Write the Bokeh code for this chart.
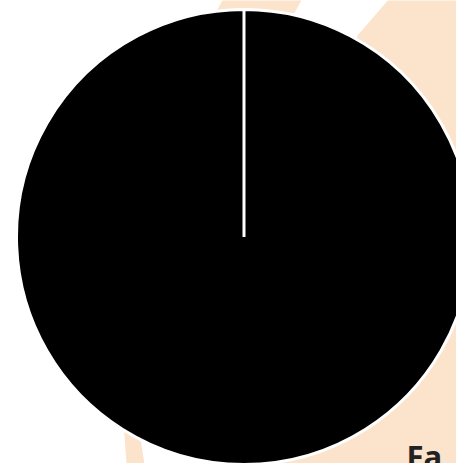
import math
from bokeh.plotting import figure
from bokeh.models import Range1d, ColumnDataSource
from bokeh.core.properties import value
from bokeh.embed import file_html
from bokeh.resources import INLINE

# data
categories = ["Share"]
shares = [100.0]
slice_colors = ["#000000"]
title_text = "Fa"

W, H = 456, 463

def X(px):
    return px

def Y(py):
    return H - py

p = figure(width=W, height=H, output_backend="svg", toolbar_location=None,
           x_range=Range1d(0, W), y_range=Range1d(0, H),
           min_border=0, match_aspect=False)
p.axis.visible = False
p.grid.visible = False
p.outline_line_color = None
p.background_fill_color = "#FFFFFF"
p.border_fill_color = "#FFFFFF"

peach = "#FCE4CC"
# decorative background shapes
p.patch([X(223), X(302), X(284), X(205)], [Y(-2), Y(-2), Y(30), Y(30)],
        fill_color=peach, line_color=None)
p.patch([X(389), X(470), X(470), X(250), X(357)],
        [Y(-2), Y(-2), Y(470), Y(470), Y(35)],
        fill_color=peach, line_color=None)
p.patch([X(121.5), X(134), X(145), X(126.5)],
        [Y(400), Y(400), Y(470), Y(470)],
        fill_color=peach, line_color=None)

# pie
total = sum(shares)
EPS = 1e-4  # keeps a full-circle arc from collapsing in SVG
starts, ends = [], []
a = math.pi / 2
for v in shares:
    starts.append(a)
    a = a - 2 * math.pi * v / total
    ends.append(a + EPS)
src = ColumnDataSource(dict(cat=categories, start=starts, end=ends, color=slice_colors))
p.wedge(x=X(243.5), y=Y(236.5), radius=227.5, radius_units="screen",
        start_angle="start", end_angle="end", direction="clock",
        fill_color="color", line_color="#FFFFFF", line_width=3, source=src)

p.text(x=[X(406)], y=[Y(455)], text=[title_text], text_font=value("Open Sans"),
       text_font_style="bold", text_font_size="31px", text_color="#222222",
       text_baseline="alphabetic", text_align="left")

open("out.html", "w").write(file_html(p, INLINE))
